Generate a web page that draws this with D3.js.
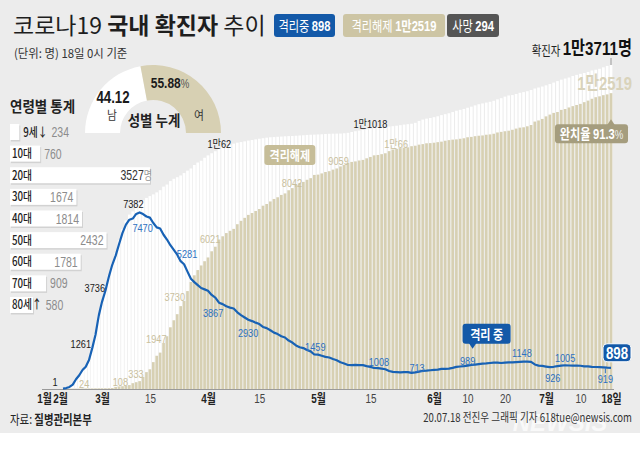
<!DOCTYPE html>
<html>
<head>
<meta charset="utf-8">
<script src="https://cdn.jsdelivr.net/npm/d3@7"></script>
<style>
  body { margin: 0; background: #fff; }
  svg { display: block; font-family: "Noto Sans CJK KR", sans-serif; }
  .num { font-family: "Liberation Sans", "Noto Sans CJK KR", sans-serif; }
</style>
</head>
<body>
<div id="chart"></div>
<script>
var parseDay = d3.timeParse("%Y-%m-%d");
var startDay = parseDay("2020-02-18");

// 누적 확진자, 2/18 ~ 7/18 (일별)
var confirmed = [
  31, 51, 104, 204, 433, 602, 833, 977, 1261, 1766, 2337, 3150,
  3736, 4212, 4812, 5328, 5766, 6284, 6767, 7134, 7382, 7513, 7755, 7869, 7979, 8086, 8162, 8236,
  8320, 8413, 8565, 8652, 8799, 8897, 8961, 9037, 9137, 9241, 9332, 9478, 9583, 9661, 9786,
  9887, 9976, 10062, 10156, 10237, 10284, 10331, 10384, 10423, 10450, 10480, 10512, 10537, 10564, 10591,
  10613, 10635, 10653, 10661, 10674, 10683, 10694, 10702, 10708, 10718, 10728, 10738, 10752, 10761, 10765,
  10774, 10780, 10793, 10801, 10804, 10806, 10810, 10822, 10840, 10874, 10909, 10936, 10962, 10991, 11018,
  11037, 11050, 11065, 11078, 11110, 11122, 11142, 11165, 11190, 11206, 11225, 11265, 11344, 11402, 11441, 11468,
  11503, 11541, 11590, 11629, 11668, 11719, 11776, 11814, 11852, 11902, 11947, 12003, 12051, 12085, 12121,
  12155, 12198, 12257, 12306, 12373, 12421, 12438, 12484, 12535, 12563, 12602, 12653, 12715, 12757, 12800,
  12850, 12904, 12967, 13030, 13091, 13137, 13181, 13244, 13293, 13338, 13373, 13417, 13479, 13512, 13551,
  13612, 13672, 13711
];
// 누적 격리해제
var released = [
  12, 12, 16, 16, 16, 18, 22, 22, 22, 24, 27, 28,
  30, 31, 34, 41, 88, 108, 118, 130, 166, 247, 288, 333, 510, 714, 834, 1137,
  1407, 1540, 1947, 2233, 2612, 2909, 3166, 3507, 3730, 4144, 4528, 4811, 5033, 5228, 5408,
  5567, 5828, 6021, 6325, 6463, 6598, 6694, 6776, 6973, 7117, 7243, 7368, 7447, 7534, 7616,
  7757, 7829, 7937, 8042, 8114, 8213, 8277, 8411, 8501, 8635, 8717, 8764, 8854, 8922, 9059,
  9072, 9123, 9183, 9217, 9283, 9333, 9419, 9484, 9568, 9610, 9632, 9670, 9695, 9762, 9821,
  9888, 9904, 9938, 9976, 10066, 10135, 10162, 10194, 10213, 10226, 10275, 10295, 10340, 10363, 10398, 10405,
  10422, 10446, 10467, 10506, 10531, 10552, 10564, 10589, 10611, 10654, 10669, 10699, 10718, 10730, 10760,
  10774, 10802, 10856, 10881, 10908, 10930, 10970, 11020, 11060, 11075, 11117, 11172, 11317, 11364, 11429,
  11537, 11613, 11684, 11722, 11811, 11848, 11914, 11970, 12019, 12066, 12138, 12204, 12282, 12348, 12385,
  12434, 12467, 12519
];
// 격리 중
var isolated = [
  19, 39, 87, 186, 415, 582, 803, 945, 1227, 1730, 2297, 3105,
  3689, 4159, 4750, 5255, 5643, 6134, 6604, 6954, 7165, 7212, 7407, 7470, 7402, 7300, 7253, 7024,
  6838, 6789, 6527, 6325, 6085, 5884, 5684, 5410, 5281, 4966, 4665, 4523, 4398, 4275, 4216,
  4155, 3979, 3867, 3654, 3591, 3500, 3445, 3408, 3246, 3125, 3026, 2930, 2873, 2808, 2750,
  2627, 2576, 2484, 2385, 2324, 2233, 2179, 2051, 1967, 1843, 1769, 1731, 1654, 1593, 1459,
  1454, 1407, 1360, 1332, 1267, 1218, 1135, 1082, 1016, 1008, 1019, 1008, 1008, 969, 937,
  889, 884, 864, 837, 761, 723, 716, 707, 713, 717, 681, 701, 735, 770, 774, 794,
  808, 822, 850, 850, 860, 894, 938, 951, 966, 989, 1016, 1035, 1055, 1077, 1083,
  1101, 1116, 1120, 1100, 1120, 1130, 1125, 1135, 1148, 1160, 1158, 1150, 1040, 990, 975,
  950, 926, 940, 965, 990, 1005, 995, 990, 985, 983, 960, 955, 940, 930, 925,
  919, 905, 898
];
var days = confirmed.map(function(d, i) { return d3.timeDay.offset(startDay, i); });

var tickDates = ["2020-01-20", "2020-02-01", "2020-03-01", "2020-03-15", "2020-04-01", "2020-04-15",
  "2020-05-01", "2020-05-15", "2020-06-01", "2020-06-10", "2020-06-20", "2020-07-01", "2020-07-10", "2020-07-18"];
var tickLabels = ["1월", "2월", "3월", "15", "4월", "15", "5월", "15", "6월", "10", "20", "7월", "10", "18일"];

// 수치 표시 (날짜, 값, 글자)
var confirmedNotes = [["2020-01-20", 1, "1"], ["2020-02-26", 1261, "1261"], ["2020-03-01", 3736, "3736"],
  ["2020-03-09", 7382, "7382"], ["2020-04-03", 10062, "1만62"], ["2020-05-15", 11018, "1만1018"]];
var releasedNotes = [["2020-02-27", 24, "24"], ["2020-03-06", 108, "108"], ["2020-03-12", 333, "333"],
  ["2020-03-19", 1947, "1947"], ["2020-03-25", 3730, "3730"], ["2020-04-03", 6021, "6021"],
  ["2020-04-19", 8042, "8042"], ["2020-04-30", 9059, "9059"], ["2020-05-20", 10066, "1만66"]];
var isolatedNotes = [["2020-03-12", 7470, "7470"], ["2020-03-25", 5281, "5281"], ["2020-04-03", 3867, "3867"],
  ["2020-04-12", 2930, "2930"], ["2020-04-30", 1459, "1459"], ["2020-05-13", 1008, "1008"],
  ["2020-05-24", 713, "713"], ["2020-06-10", 989, "989"], ["2020-06-24", 1148, "1148"],
  ["2020-07-02", 926, "926"], ["2020-07-06", 1005, "1005"], ["2020-07-16", 919, "919"]];

var ageGroups = ["9세↓", "10대", "20대", "30대", "40대", "50대", "60대", "70대", "80세↑"];
var ageCounts = [234, 760, 3527, 1674, 1814, 2432, 1781, 909, 580];
var genderLabels = ["남", "여"];
var genderShares = [44.12, 55.88];

var totalConfirmed = 13711, totalReleased = 12519, totalDeaths = 294, recoveryRate = 91.3;

// label nudges [dx, dy, anchor]
var confirmedPos = [[11, -3, "middle"], [2, -11, "end"], [3, -9, "end"], [4, -7, "middle"], [4, -3, "middle"], [0, -1, "middle"]];
var releasedPos = [[-3, 0, "end"], [9, 0, "end"], [4, -3, "end"], [3, 0, "end"], [1, 0, "end"], [5, -4, "end"],
  [18, -12, "middle"], [14, -10, "start"], [7, -3, "middle"]];
var isolatedPos = [[3, 20, "middle"], [3, -6, "middle"], [8, 19, "end"], [10, 17, "end"], [1, -4, "middle"],
  [16, 1, "middle"], [13, 0, "middle"], [0, -1, "middle"], [2, -5, "middle"], [3, 15, "middle"], [0, -3, "middle"], [2, 16, "middle"]];

var blue = "#1862b5", tan = "#d7d0b3";

var svg = d3.select("#chart")
  .append("svg")
  .attr("width", 640)
  .attr("height", 451);

svg.append("rect").attr("width", 640).attr("height", 433).attr("fill", "#ececec");

// text helper: condensed look via horizontal scale
function addText(g, x, y, size, sx, anchor, cls) {
  return g.append("text")
    .attr("class", cls || null)
    .attr("transform", "translate(" + x + "," + y + ") scale(" + sx + ",1)")
    .attr("text-anchor", anchor || "start")
    .attr("font-size", size);
}

var x = d3.scaleTime()
  .domain(["2020-01-20", "2020-02-01", "2020-02-18", "2020-03-01", "2020-04-01", "2020-05-01",
    "2020-06-01", "2020-07-01", "2020-07-18"].map(parseDay))
  .range([44, 60, 63, 102, 208, 318, 434, 546, 611]);
var y = d3.scaleLinear().domain([0, totalConfirmed]).range([389, 65]);
var bw = 2.7;

// watermark sits under everything else
svg.append("text")
  .attr("x", 560).attr("y", 431)
  .attr("text-anchor", "middle")
  .attr("font-family", "Liberation Sans, sans-serif")
  .attr("font-size", 24).attr("font-weight", 700).attr("font-style", "italic")
  .attr("fill", "#fff").attr("opacity", 0.7)
  .text("NEWSIS");

// bars
svg.append("g")
  .selectAll("rect")
  .data(confirmed)
  .enter()
  .append("rect")
    .attr("x", function(d, i) { return x(days[i]) - bw / 2; })
    .attr("y", function(d) { return y(d); })
    .attr("width", bw)
    .attr("height", function(d) { return y(0) - y(d); })
    .attr("fill", "#fff");

svg.append("g")
  .selectAll("rect")
  .data(released)
  .enter()
  .append("rect")
    .attr("x", function(d, i) { return x(days[i]) - bw / 2; })
    .attr("y", function(d) { return y(d); })
    .attr("width", bw)
    .attr("height", function(d) { return y(0) - y(d); })
    .attr("fill", tan);

// x axis
svg.append("line")
  .attr("x1", x(parseDay("2020-01-20")) - 2).attr("x2", x(days[days.length - 1]) + 3)
  .attr("y1", 389.5).attr("y2", 389.5)
  .style("stroke", "#9a9a9a");

var xAxis = svg.append("g")
  .attr("transform", "translate(0,389)")
  .call(d3.axisBottom(x)
    .tickValues(tickDates.map(parseDay))
    .tickFormat(function(d, i) { return tickLabels[i]; })
    .tickSize(0)
    .tickPadding(5));
xAxis.select(".domain").remove();
xAxis.selectAll("text")
  .attr("font-family", "Liberation Sans, Noto Sans CJK KR, sans-serif")
  .attr("font-size", 13)
  .attr("transform", "scale(0.76,1)")
  .attr("font-weight", function(d, i) { return /[월일]/.test(tickLabels[i]) ? 700 : 400; })
  .attr("fill", function(d, i) { return /[월일]/.test(tickLabels[i]) ? "#222" : "#444"; });

// isolation line
svg.append("path")
  .datum(isolated)
  .attr("d", d3.line()
    .x(function(d, i) { return x(days[i]); })
    .y(function(d) { return y(d); }))
  .attr("fill", "none")
  .attr("stroke", blue)
  .attr("stroke-width", 2.2)
  .attr("stroke-linejoin", "round");

// value labels
function drawNotes(notes, pos, color) {
  var g = svg.append("g");
  notes.forEach(function(n, i) {
    var p = pos[i];
    addText(g, x(parseDay(n[0])) + p[0], y(n[1]) + p[1], 11.5, 0.8, p[2], "num")
      .attr("fill", color)
      .text(n[2]);
  });
}
drawNotes(releasedNotes, releasedPos, "#c9c09d");
drawNotes(confirmedNotes, confirmedPos, "#1a1a1a");
drawNotes(isolatedNotes, isolatedPos, "#2d71c1");

// tick under 919
var n919 = isolatedNotes[isolatedNotes.length - 1];
svg.append("line")
  .attr("x1", x(parseDay(n919[0])) + 2).attr("x2", x(parseDay(n919[0])) + 2)
  .attr("y1", y(n919[1]) + 1).attr("y2", y(n919[1]) + 6)
  .style("stroke", "#2d71c1");

var lastX = x(days[days.length - 1]);

// total confirmed marker
svg.append("line")
  .attr("x1", lastX).attr("x2", lastX)
  .attr("y1", y(totalConfirmed) - 7).attr("y2", y(totalConfirmed))
  .style("stroke", "#9a9a9a");
var tc = addText(svg, 632, 55, 13, 0.8, "end");
tc.append("tspan").attr("fill", "#222").text("확진자 ");
tc.append("tspan").attr("class", "num").attr("font-size", 19).attr("font-weight", 700).attr("fill", "#111")
  .text("1만" + (totalConfirmed % 10000) + "명");

addText(svg, 632, y(totalReleased) - 3, 19, 0.78, "end", "num")
  .attr("font-weight", 700).attr("fill", "#d9d3bb")
  .text("1만" + (totalReleased % 10000));

// 완치율 badge
var rb = svg.append("g");
rb.append("path")
  .attr("d", "M" + (lastX - 4) + "," + (y(totalReleased) + 32) + "L" + lastX + "," + (y(totalReleased) + 26) + "L" + (lastX + 4) + "," + (y(totalReleased) + 32) + "Z")
  .attr("fill", "#a59d7e");
rb.append("rect")
  .attr("x", lastX - 56).attr("y", y(totalReleased) + 31)
  .attr("width", 73).attr("height", 19).attr("rx", 3)
  .attr("fill", "#a59d7e");
var rt = addText(rb, lastX - 19.5, y(totalReleased) + 46, 14, 0.8, "middle");
rt.append("tspan").attr("fill", "#fff").attr("font-weight", 700).text("완치율 ");
rt.append("tspan").attr("class", "num").attr("fill", "#fff").attr("font-weight", 700).text(recoveryRate);
rt.append("tspan").attr("class", "num").attr("fill", "#eee").attr("font-size", 12).text("%");

// 격리해제 badge
var relBadgeX = x(parseDay("2020-04-18")) - 6;
svg.append("rect")
  .attr("x", relBadgeX).attr("y", 145).attr("width", 51).attr("height", 20).attr("rx", 3)
  .attr("fill", "#c6bd98");
addText(svg, relBadgeX + 25.5, 160, 13, 0.85, "middle")
  .attr("fill", "#fff").attr("font-weight", 700).text("격리해제");

// 격리 중 badge
var isoX = x(parseDay("2020-06-10")) + 5, isoY = y(989) - 17;
svg.append("path")
  .attr("d", "M" + (isoX - 4) + "," + (isoY - 6) + "L" + isoX + "," + isoY + "L" + (isoX + 4) + "," + (isoY - 6) + "Z")
  .attr("fill", "#1359a8");
svg.append("rect")
  .attr("x", isoX - 10).attr("y", isoY - 25).attr("width", 48).attr("height", 20).attr("rx", 3)
  .attr("fill", "#1359a8");
addText(svg, isoX + 14, isoY - 10, 13, 0.85, "middle")
  .attr("fill", "#fff").attr("font-weight", 700).text("격리 중");

// 898 end badge
var lastIso = isolated[isolated.length - 1];
svg.append("rect")
  .attr("x", lastX - 8).attr("y", y(lastIso) - 24).attr("width", 28).attr("height", 18).attr("rx", 4)
  .attr("fill", "#1359a8").attr("stroke", "#fff").attr("stroke-width", 1);
addText(svg, lastX + 6, y(lastIso) - 9, 17, 0.78, "middle", "num")
  .attr("fill", "#fff").attr("font-weight", 700).text(lastIso);

// title + top legend
var title = svg.append("text").attr("x", 13).attr("y", 34).attr("font-size", 23).attr("fill", "#1e1e1e");
title.append("tspan").text("코로나19 ");
title.append("tspan").attr("font-weight", 700).text("국내 확진자");
title.append("tspan").text(" 추이");

addText(svg, 14, 58, 12, 0.95, "start").attr("fill", "#333").text("(단위: 명) 18일 0시 기준");

var legendItems = [
  { name: "격리중", value: String(lastIso), color: "#1359a8", fg: "#fff", x: 274, w: 61 },
  { name: "격리해제", value: "1만" + (totalReleased % 10000), color: "#cdc5a4", fg: "#fff", x: 343, w: 102 },
  { name: "사망", value: String(totalDeaths), color: "#555", fg: "#fff", x: 447, w: 52 }
];
legendItems.forEach(function(d) {
  svg.append("rect").attr("x", d.x).attr("y", 14).attr("width", d.w).attr("height", 23).attr("rx", 3).attr("fill", d.color);
  var t = addText(svg, d.x + d.w / 2, 31, 14, 0.8, "middle").attr("fill", d.fg);
  t.append("tspan").text(d.name + " ");
  t.append("tspan").attr("class", "num").attr("font-weight", 700).text(d.value);
});

// gender half donut
var gender = svg.append("g").attr("transform", "translate(153,133)");
var pie = d3.pie().sort(null).startAngle(-Math.PI / 2).endAngle(Math.PI / 2);
var arc = d3.arc().innerRadius(33).outerRadius(68);
gender.selectAll("path")
  .data(pie(genderShares))
  .enter()
  .append("path")
    .attr("d", arc)
    .attr("fill", function(d, i) { return i === 0 ? "#fff" : tan; });
addText(svg, 113, 103, 17, 0.78, "middle", "num").attr("font-weight", 700).attr("fill", "#1a1a1a").text(genderShares[0]);
var fs = addText(svg, 170, 88, 15, 0.8, "middle", "num").attr("fill", "#1a1a1a");
fs.append("tspan").attr("font-weight", 700).text(genderShares[1]);
fs.append("tspan").attr("font-size", 12).attr("fill", "#555").text("%");
addText(svg, 112, 120, 12, 0.9, "middle").attr("fill", "#333").text(genderLabels[0]);
addText(svg, 199, 120, 12, 0.9, "middle").attr("fill", "#333").text(genderLabels[1]);
addText(svg, 154, 126, 15, 0.9, "middle").attr("font-weight", 700).attr("fill", "#222").text("성별 누계");

// age panel
addText(svg, 10, 112, 15, 0.9, "start").attr("font-weight", 700).attr("fill", "#222").text("연령별 통계");
var maxAge = d3.max(ageCounts);
var ax = d3.scaleLinear().domain([0, maxAge]).range([0, 140]);
var ay = d3.scaleBand().domain(ageGroups).range([124, 313]).paddingInner(0.26);
var ageG = svg.append("g");
ageGroups.forEach(function(a, i) {
  var v = ageCounts[i], w = ax(v), yy = ay(a), bh = ay.bandwidth();
  ageG.append("rect").attr("x", 11).attr("y", yy + 1.5).attr("width", w).attr("height", bh).attr("fill", "#d2d2d2");
  ageG.append("rect").attr("x", 10).attr("y", yy).attr("width", w).attr("height", bh).attr("fill", "#fff");
  var lx = w < 20 ? 10 + w + 4 : 12;
  var lab = addText(ageG, lx, yy + bh / 2 + 4.5, 12.5, 0.78, "start").attr("fill", "#222").attr("font-weight", 500).text(a);
  var labEnd = lx + lab.node().getBBox().width * 0.78;
  if (v === maxAge) {
    var vt = addText(ageG, 10 + w + 2, yy + bh / 2 + 5, 14, 0.75, "end", "num");
    vt.append("tspan").attr("fill", "#333").text(v);
    vt.append("tspan").attr("font-size", 12).attr("fill", "#999").text("명");
  } else if (w > 60) {
    addText(ageG, 10 + w - 3, yy + bh / 2 + 5, 14, 0.75, "end", "num").attr("fill", "#8c8c8c").text(v);
  } else {
    addText(ageG, Math.max(10 + w, labEnd) + 4, yy + bh / 2 + 5, 14, 0.75, "start", "num").attr("fill", "#8c8c8c").text(v);
  }
});

// footer
var src = addText(svg, 10, 424, 13, 0.8, "start").attr("fill", "#222");
src.append("tspan").text("자료: ");
src.append("tspan").attr("font-weight", 700).text("질병관리본부");
addText(svg, 632, 422, 12, 0.8, "end").attr("fill", "#333").text("20.07.18 전진우 그래픽 기자 618tue@newsis.com");
</script>
</body>
</html>
